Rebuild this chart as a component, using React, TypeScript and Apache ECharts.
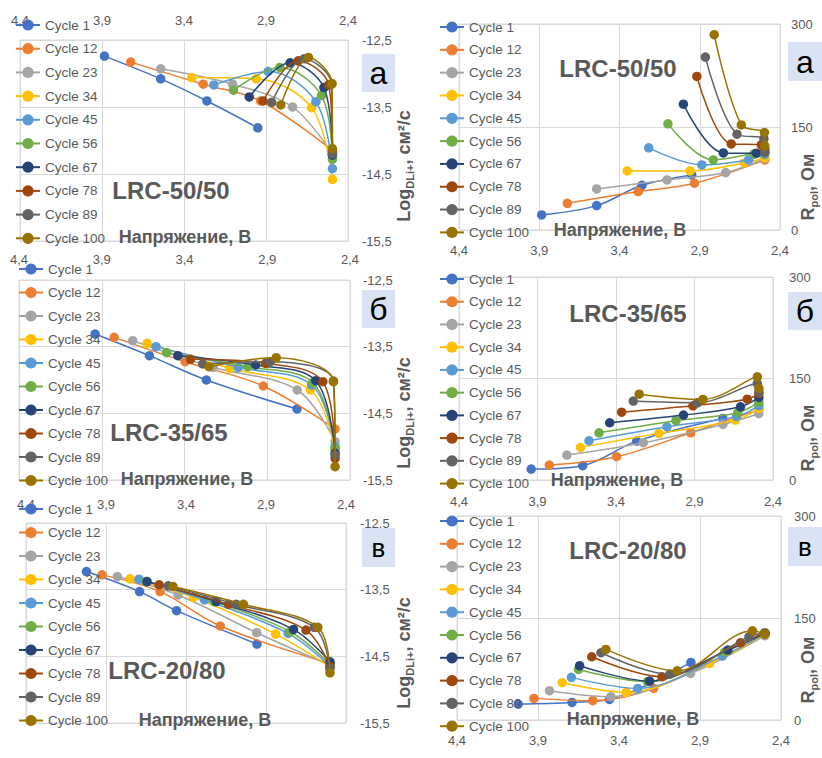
import React, { useEffect, useRef } from "react";
import * as echarts from "echarts";

const cycles = ["Cycle 1", "Cycle 12", "Cycle 23", "Cycle 34", "Cycle 45", "Cycle 56", "Cycle 67", "Cycle 78", "Cycle 89", "Cycle 100"];
const colors = ["#4472C4", "#ED7D31", "#A5A5A5", "#FFC000", "#5B9BD5", "#70AD47", "#264478", "#9E480E", "#636363", "#997300"];

const xTickLabels = ["2,4", "2,9", "3,4", "3,9", "4,4"];
const logTickLabels = ["-15,5", "-14,5", "-13,5", "-12,5"];
const logTickLabelsB = ["-15,5", "-14,5", "-13,5", "-12.5"];
const rTickLabels = ["0", "150", "300"];

// LRC-50/50
const volt5050 = [
  [3.885, 3.542, 3.26, 2.95],
  [3.725, 3.283, 2.933, 2.495],
  [3.542, 3.104, 2.738, 2.495],
  [3.352, 2.96, 2.622, 2.495],
  [3.218, 2.887, 2.596, 2.495],
  [3.098, 2.816, 2.562, 2.495],
  [3.002, 2.753, 2.547, 2.495],
  [2.918, 2.704, 2.517, 2.495],
  [2.865, 2.668, 2.5, 2.495],
  [2.81, 2.641, 2.497, 2.495],
];
const logD5050 = [
  [-12.74, -13.08, -13.41, -13.81],
  [-12.83, -13.16, -13.41, -14.15],
  [-12.93, -13.16, -13.5, -14.2],
  [-13.06, -13.08, -13.51, -14.58],
  [-13.17, -12.97, -13.42, -14.42],
  [-13.25, -12.91, -13.33, -14.28],
  [-13.35, -12.84, -13.21, -14.22],
  [-13.41, -12.81, -13.17, -14.17],
  [-13.43, -12.78, -13.16, -14.2],
  [-13.47, -12.76, -13.15, -14.12],
];
const rpol5050 = [
  [21.9, 35.5, 65.1, 80.2],
  [38.9, 55.9, 68.1, 102],
  [59.8, 72.9, 83.6, 104],
  [86, 86, 97.7, 105],
  [119.6, 94.8, 102, 110],
  [154.6, 102.1, 111, 112],
  [183.3, 112.3, 111.8, 115],
  [223.6, 125.4, 124, 118],
  [251.8, 139.5, 133, 113],
  [284.4, 153, 142, 122.5],
];

// LRC-35/65
const volt3565 = [
  [3.94, 3.612, 3.268, 2.72],
  [3.825, 3.396, 2.924, 2.49],
  [3.713, 3.226, 2.719, 2.49],
  [3.626, 3.126, 2.64, 2.49],
  [3.572, 3.075, 2.632, 2.49],
  [3.508, 3.018, 2.625, 2.49],
  [3.44, 2.97, 2.607, 2.49],
  [3.364, 2.91, 2.564, 2.49],
  [3.29, 2.882, 2.5, 2.49],
  [3.252, 2.846, 2.5, 2.49],
];
const logD3565 = [
  [-13.31, -13.635, -14.0, -14.435],
  [-13.36, -13.725, -14.09, -14.735],
  [-13.41, -13.81, -14.15, -14.925],
  [-13.45, -13.825, -14.15, -15.05],
  [-13.5, -13.81, -14.075, -15.0],
  [-13.59, -13.8, -14.04, -15.025],
  [-13.635, -13.775, -14.01, -15.1],
  [-13.69, -13.75, -14.025, -15.175],
  [-13.76, -13.725, -14.015, -15.125],
  [-13.8, -13.665, -14.025, -15.3],
];
const rpol3565 = [
  [16.2, 21.2, 57.5, 91],
  [22.1, 34.4, 69.8, 104],
  [36.9, 55.1, 82.1, 98],
  [48.2, 68.9, 88.5, 106],
  [58, 78.7, 94, 110],
  [69.8, 87.6, 99.4, 115],
  [84.6, 95.9, 108.2, 122],
  [100.3, 109.7, 119.5, 128],
  [116.6, 114.1, 142.6, 130],
  [126.9, 119, 152.5, 135.3],
];

// LRC-20/80
const volt2080 = [
  [4.022, 3.69, 3.459, 2.956],
  [3.925, 3.562, 3.186, 2.5],
  [3.829, 3.45, 2.958, 2.5],
  [3.75, 3.355, 2.84, 2.5],
  [3.694, 3.284, 2.762, 2.5],
  [3.65, 3.224, 2.748, 2.5],
  [3.643, 3.211, 2.728, 2.5],
  [3.568, 3.134, 2.65, 2.5],
  [3.511, 3.086, 2.598, 2.5],
  [3.481, 3.041, 2.576, 2.5],
];
const logD2080 = [
  [-13.228, -13.529, -13.815, -14.316],
  [-13.278, -13.529, -14.045, -14.607],
  [-13.303, -13.579, -14.146, -14.633],
  [-13.338, -13.614, -14.166, -14.658],
  [-13.343, -13.654, -14.156, -14.648],
  [-13.378, -13.679, -14.131, -14.617],
  [-13.378, -13.679, -14.096, -14.582],
  [-13.428, -13.719, -14.106, -14.658],
  [-13.443, -13.719, -14.065, -14.683],
  [-13.453, -13.719, -14.065, -14.748],
];
const rpol2080 = [
  [23.5, 25.9, 30.3, 84.7],
  [31.8, 28.4, 46.5, 124.8],
  [43.1, 34.3, 68.5, 124],
  [54.8, 40.6, 83.2, 126],
  [62.7, 46.5, 94, 127],
  [74.4, 56.3, 100, 127],
  [79.8, 57.3, 102.8, 127],
  [93, 63.6, 113.6, 128],
  [98.9, 67.5, 122.4, 128],
  [103.8, 72.4, 131.2, 126.3],
];

const materials = ["LRC-50/50", "LRC-35/65", "LRC-20/80"];
const letters = ["а", "б", "в"];

const V0 = 2.4; // right end of the voltage axis
const LOG0 = -15.5; // bottom of the log axis

const FONT = "'Liberation Sans', Arial, sans-serif";
const GRAY = "#595959";
const GRID_C = "#d9d9d9";

type Panel = {
  grid: { left: number; top: number; width: number; height: number };
  kind: "log" | "r";
  volt: number[][];
  vals: number[][];
  yLabels: string[];
  xMargin: number;
  yMargin: number;
  legend: { left: number; top: number; gap: number };
  title: [number, number];
  xTitle: [number, number];
  yTitle: [number, number];
  box: [number, number, number, number];
  mat: number;
};

const panels: Panel[] = [
  { grid: { left: 20, top: 40, width: 328, height: 201 }, kind: "log", volt: volt5050, vals: logD5050, yLabels: logTickLabels, xMargin: 13, yMargin: 14, legend: { left: 15, top: 18, gap: 9.7 }, title: [171, 190], xTitle: [185, 237], yTitle: [404, 166], box: [362, 54, 33, 38], mat: 0 },
  { grid: { left: 459, top: 24, width: 321, height: 206 }, kind: "r", volt: volt5050, vals: rpol5050, yLabels: rTickLabels, xMargin: 14, yMargin: 11, legend: { left: 439, top: 20, gap: 8.82 }, title: [618, 68], xTitle: [620, 230], yTitle: [808, 187], box: [788, 42, 34, 39], mat: 0 },
  { grid: { left: 19, top: 280, width: 331, height: 200 }, kind: "log", volt: volt3565, vals: logD3565, yLabels: logTickLabels, xMargin: 14, yMargin: 13, legend: { left: 18, top: 262, gap: 9.5 }, title: [169, 432], xTitle: [187, 479], yTitle: [404, 413], box: [362, 290, 33, 38], mat: 1 },
  { grid: { left: 459, top: 277, width: 314, height: 203 }, kind: "r", volt: volt3565, vals: rpol3565, yLabels: rTickLabels, xMargin: 15, yMargin: 16, legend: { left: 439, top: 272, gap: 8.73 }, title: [628, 313], xTitle: [617, 480], yTitle: [808, 438], box: [788, 292, 34, 38], mat: 1 },
  { grid: { left: 26, top: 523, width: 320, height: 200 }, kind: "log", volt: volt2080, vals: logD2080, yLabels: logTickLabelsB, xMargin: 12, yMargin: 14, legend: { left: 18, top: 502, gap: 9.5 }, title: [167, 670], xTitle: [205, 720], yTitle: [404, 653], box: [362, 528, 33, 39], mat: 2 },
  { grid: { left: 457, top: 516, width: 324, height: 204 }, kind: "r", volt: volt2080, vals: rpol2080, yLabels: rTickLabels, xMargin: 14, yMargin: 13, legend: { left: 439, top: 514, gap: 8.8 }, title: [628, 550], xTitle: [633, 719], yTitle: [808, 670], box: [788, 527, 34, 39], mat: 2 },
];

function buildOption() {
  const grid: any[] = [];
  const xAxis: any[] = [];
  const yAxis: any[] = [];
  const series: any[] = [];
  const legend: any[] = [];
  const graphic: any[] = [];

  panels.forEach((p, i) => {
    grid.push({
      ...p.grid,
      show: true,
      borderColor: GRID_C,
      borderWidth: 1,
      containLabel: false,
      outerBoundsMode: "none",
    });
    xAxis.push({
      type: "value",
      gridIndex: i,
      min: 0,
      max: 2,
      interval: 0.5,
      inverse: true,
      position: p.kind === "log" ? "top" : "bottom",
      axisLine: { show: false },
      axisTick: { show: false },
      splitLine: { show: true, lineStyle: { color: GRID_C, width: 1 } },
      axisLabel: {
        margin: p.xMargin,
        color: GRAY,
        fontSize: 13,
        fontFamily: FONT,
        formatter: (v: number) => xTickLabels[Math.round(v / 0.5)] ?? "",
      },
    });
    const isLog = p.kind === "log";
    yAxis.push({
      type: "value",
      gridIndex: i,
      position: "right",
      min: 0,
      max: isLog ? 3 : 300,
      interval: isLog ? 1 : 150,
      axisLine: { show: false },
      axisTick: { show: false },
      splitLine: { show: true, lineStyle: { color: GRID_C, width: 1 } },
      axisLabel: {
        margin: p.yMargin,
        color: GRAY,
        fontSize: 13,
        fontFamily: FONT,
        formatter: (v: number) => p.yLabels[Math.round(isLog ? v : v / 150)] ?? "",
      },
    });
    cycles.forEach((name, k) => {
      series.push({
        name,
        type: "line",
        xAxisIndex: i,
        yAxisIndex: i,
        data: p.volt[k].map((v, j) => [v - V0, isLog ? p.vals[k][j] - LOG0 : p.vals[k][j]]),
        smooth: 0.35,
        symbol: "circle",
        symbolSize: 9.5,
        color: colors[k],
        lineStyle: { width: 1.5, color: colors[k] },
        itemStyle: { color: colors[k] },
        z: 2 + k * 0.01,
      });
    });
    legend.push({
      show: true,
      orient: "vertical",
      left: p.legend.left,
      top: p.legend.top,
      itemGap: p.legend.gap,
      itemWidth: 24,
      itemHeight: 14,
      padding: 0,
      selectedMode: false,
      data: cycles,
      textStyle: { color: GRAY, fontSize: 13.5, fontFamily: FONT },
    });

    graphic.push({
      type: "text",
      x: p.title[0],
      y: p.title[1],
      style: {
        text: materials[p.mat],
        fill: GRAY,
        font: `bold 24px ${FONT}`,
        align: "center",
        verticalAlign: "middle",
      },
      z: 100,
    });
    graphic.push({
      type: "text",
      x: p.xTitle[0],
      y: p.xTitle[1],
      style: {
        text: "Напряжение, В",
        fill: GRAY,
        font: `bold 18px ${FONT}`,
        align: "center",
        verticalAlign: "middle",
      },
      z: 100,
    });
    graphic.push({
      type: "text",
      x: p.yTitle[0],
      y: p.yTitle[1],
      rotation: Math.PI / 2,
      style: {
        text: isLog ? "{a|Log}{s|DLi+}{a|, см²/с}" : "{a|R}{s|pol}{a|, Ом}",
        align: "center",
        verticalAlign: "middle",
        rich: {
          a: { fill: GRAY, fontSize: 18, fontWeight: "bold", fontFamily: FONT, lineHeight: 22 },
          s: { fill: GRAY, fontSize: 11, fontWeight: "bold", fontFamily: FONT, verticalAlign: "bottom", lineHeight: 12 },
        },
      },
      z: 100,
    });
    graphic.push({
      type: "rect",
      shape: { x: p.box[0], y: p.box[1], width: p.box[2], height: p.box[3] },
      style: { fill: "#DAE3F3" },
      z: 99,
    });
    graphic.push({
      type: "text",
      x: p.box[0] + p.box[2] / 2,
      y: p.box[1] + p.box[3] / 2,
      style: {
        text: letters[p.mat],
        fill: "#000000",
        font: `${p.mat === 2 ? 26 : 32}px ${FONT}`,
        align: "center",
        verticalAlign: "middle",
      },
      z: 100,
    });
  });

  return {
    animation: false,
    backgroundColor: "#ffffff",
    grid,
    xAxis,
    yAxis,
    series,
    legend,
    graphic,
  };
}

export default function App() {
  const ref = useRef<HTMLDivElement>(null);
  useEffect(() => {
    if (!ref.current) return;
    const chart = echarts.init(ref.current, undefined, { renderer: "svg" });
    chart.setOption(buildOption() as any);
    return () => chart.dispose();
  }, []);
  return (
    <div
      ref={ref}
      style={{ position: "absolute", left: 0, top: 0, width: 822, height: 758, background: "#fff" }}
    />
  );
}
